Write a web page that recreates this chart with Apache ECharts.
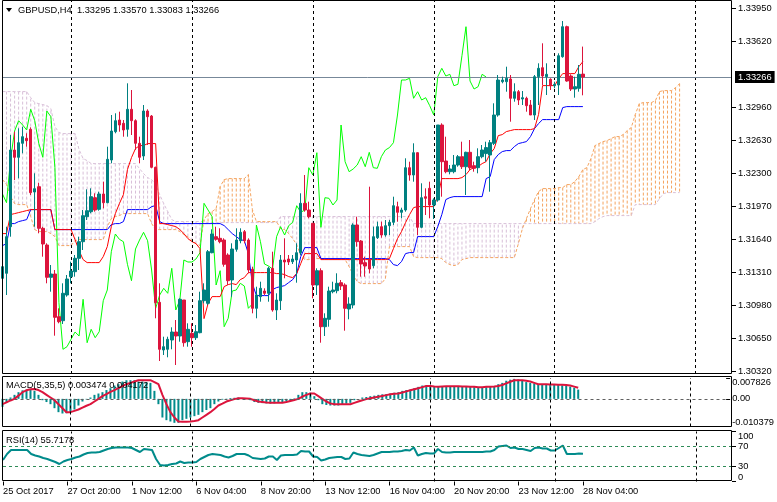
<!DOCTYPE html>
<html><head><meta charset="utf-8">
<script src="https://cdn.jsdelivr.net/npm/echarts@6/dist/echarts.min.js"></script>
<style>html,body{margin:0;padding:0;background:#fff}#c{width:777px;height:502px}</style>
</head><body><div id="c"></div>
<script>
const FONT = '"Liberation Sans", Arial, sans-serif';
const FS = 9.3;
const symbolName = 'GBPUSD,H4';

// ---- H4 candles (bar 0 = 25 Oct 04:00 ... bar 144 = 28 Nov 04:00) ----
const opens = [
1.31253,1.31303,1.31769,1.32536,1.32463,1.32603,1.32653,1.32743,1.32116,1.32169,
1.31753,1.31586,1.31263,1.31296,1.30869,1.30829,1.31086,1.31269,1.31319,1.31453,
1.31619,1.31869,1.31919,1.32059,1.31943,1.32096,1.32009,1.32436,1.32719,1.32836,
1.32803,1.32743,1.32943,1.32829,1.32603,1.32476,1.32926,1.32876,1.32363,1.31013,
1.30536,1.30543,1.30636,1.30716,1.30676,1.31036,1.30619,1.30703,1.30659,1.30709,
1.31029,1.31003,1.31509,1.31669,1.31653,1.31636,1.31486,1.31236,1.31543,1.31629,
1.31719,1.31636,1.31343,1.30953,1.31069,1.31126,1.31103,1.31353,1.30936,1.31029,
1.31436,1.31446,1.31419,1.31436,1.31509,1.32003,1.31936,1.31803,1.31186,1.31329,
1.30769,1.30843,1.31119,1.31129,1.31209,1.31186,1.30946,1.30986,1.31786,1.31626,
1.31409,1.31436,1.31379,1.31659,1.31769,1.31686,1.31779,1.31813,1.31969,1.31913,
1.31936,1.32359,1.32286,1.32509,1.31763,1.32069,1.32153,1.31986,1.32036,1.32786,
1.32426,1.32319,1.32319,1.32386,1.32469,1.32369,1.32513,1.32379,1.32359,1.32469,
1.32500,1.32486,1.32603,1.32886,1.33219,1.33219,1.33246,1.33053,1.33119,1.33046,
1.33053,1.32986,1.32886,1.33269,1.33359,1.33269,1.33243,1.33179,1.33186,1.33469,
1.33769,1.33276,1.33146,1.33153,1.33295];
const highs = [
1.31403,1.31769,1.32686,1.32719,1.32753,1.32769,1.32703,1.32763,1.32303,1.32209,
1.31769,1.31603,1.31386,1.31336,1.30953,1.31203,1.31286,1.31419,1.31486,1.31669,
1.31936,1.32143,1.32153,1.32103,1.32119,1.32219,1.32569,1.32886,1.32903,1.32919,
1.32836,1.33203,1.33136,1.32843,1.32669,1.32986,1.32943,1.32886,1.32369,1.31203,
1.30669,1.30669,1.30763,1.30836,1.31053,1.31036,1.30803,1.30803,1.30786,1.31119,
1.31203,1.31536,1.31743,1.31769,1.31753,1.31653,1.31503,1.31603,1.31753,1.31753,
1.31736,1.31653,1.31369,1.31169,1.31219,1.31153,1.31369,1.31519,1.31103,1.31486,
1.31653,1.31486,1.31486,1.31603,1.32103,1.32286,1.32019,1.31803,1.31353,1.31353,
1.30903,1.31169,1.31219,1.31303,1.31236,1.31203,1.31063,1.31803,1.31869,1.31636,
1.31469,1.32169,1.31769,1.31819,1.31819,1.31836,1.31836,1.32069,1.32019,1.31959,
1.32453,1.32419,1.32603,1.32513,1.32203,1.32153,1.32219,1.32053,1.32786,1.32803,
1.32669,1.32386,1.32486,1.32486,1.32619,1.32519,1.32636,1.32419,1.32553,1.32586,
1.32619,1.32636,1.33003,1.33286,1.33269,1.33369,1.33286,1.33203,1.33136,1.33126,
1.33069,1.33036,1.33286,1.33403,1.33603,1.33403,1.33253,1.33219,1.33503,1.33826,
1.33779,1.33293,1.33269,1.33386,1.33570];
const lows = [
1.31236,1.31086,1.31669,1.32236,1.32253,1.32503,1.32569,1.32086,1.31769,1.31703,
1.31469,1.31203,1.31119,1.30679,1.30803,1.30796,1.31069,1.31203,1.31269,1.31336,
1.31536,1.31836,1.31903,1.31919,1.31929,1.31953,1.32003,1.32403,1.32703,1.32719,
1.32669,1.32669,1.32686,1.32536,1.32403,1.32436,1.32586,1.32353,1.30853,1.30426,
1.30486,1.30463,1.30543,1.30386,1.30619,1.30569,1.30569,1.30569,1.30636,1.30703,
1.31003,1.30986,1.31503,1.31629,1.31603,1.31369,1.31186,1.31069,1.31519,1.31603,
1.31603,1.31303,1.30903,1.30853,1.31019,1.31086,1.31019,1.30919,1.30836,1.30936,
1.31253,1.31386,1.31396,1.31209,1.31486,1.31919,1.31853,1.31053,1.31086,1.30609,
1.30676,1.30769,1.31103,1.31103,1.31136,1.30729,1.30843,1.30953,1.31569,1.31269,
1.31269,1.31303,1.31353,1.31646,1.31659,1.31669,1.31686,1.31786,1.31819,1.31853,
1.31919,1.32229,1.32219,1.31686,1.31753,1.31886,1.31853,1.31846,1.32019,1.32069,
1.32303,1.32293,1.32303,1.32369,1.32346,1.32086,1.32336,1.32319,1.32303,1.32453,
1.32419,1.32119,1.32586,1.32869,1.33203,1.33119,1.32819,1.33019,1.32986,1.32986,
1.32919,1.32886,1.32836,1.32986,1.33186,1.33086,1.33136,1.33153,1.33086,1.33459,
1.33219,1.33126,1.33059,1.33119,1.33083];
const closes = [
1.31369,1.31669,1.32536,1.32463,1.32609,1.32669,1.32629,1.32109,1.32149,1.31753,
1.31596,1.31263,1.31296,1.30863,1.30819,1.31103,1.31246,1.31326,1.31453,1.31619,
1.31879,1.31929,1.32069,1.31936,1.32096,1.32009,1.32443,1.32726,1.32829,1.32786,
1.32736,1.32943,1.32829,1.32603,1.32463,1.32926,1.32869,1.32363,1.31009,1.30543,
1.30569,1.30643,1.30716,1.30676,1.31043,1.30609,1.30743,1.30659,1.30719,1.31029,
1.31136,1.31519,1.31696,1.31643,1.31619,1.31393,1.31229,1.31546,1.31636,1.31713,
1.31629,1.31336,1.30953,1.31086,1.31153,1.31103,1.31353,1.30936,1.31036,1.31436,
1.31416,1.31416,1.31446,1.31509,1.32003,1.31936,1.31869,1.31186,1.31329,1.30769,
1.30853,1.31126,1.31136,1.31203,1.31176,1.30953,1.30996,1.31786,1.31619,1.31396,
1.31376,1.31346,1.31669,1.31769,1.31686,1.31779,1.31813,1.31979,1.31913,1.31936,
1.32359,1.32286,1.32509,1.31763,1.32059,1.32053,1.31986,1.32036,1.32786,1.32419,
1.32319,1.32346,1.32386,1.32469,1.32369,1.32513,1.32359,1.32353,1.32469,1.32536,
1.32560,1.32609,1.32886,1.33236,1.33236,1.33253,1.33053,1.33119,1.33036,1.33059,
1.32979,1.32886,1.33269,1.33353,1.33276,1.33293,1.33179,1.33193,1.33479,1.33769,
1.33226,1.33146,1.33169,1.33293,1.33266];

// ---- Ichimoku lines ----
const tenkan = [
1.3170,1.3170,1.3189,1.3190,1.3191,1.3192,1.3193,1.3194,1.3194,1.3194,
1.3194,1.3194,1.3194,1.3174,1.3174,1.3174,1.3174,1.3174,1.3164,1.3153,
1.3144,1.3141,1.3141,1.3141,1.3141,1.3147,1.3157,1.3177,1.3190,1.3200,
1.3209,1.3234,1.3246,1.3255,1.3258,1.3258,1.3260,1.3260,1.3260,1.3180,
1.3180,1.3179,1.3178,1.3177,1.3174,1.3170,1.3165,1.3162,1.3160,1.3155,
1.3085,1.3100,1.3107,1.3107,1.3107,1.3117,1.3119,1.3120,1.3119,1.3124,
1.3126,1.3131,1.3131,1.3131,1.3131,1.3131,1.3131,1.3131,1.3130,1.3130,
1.3129,1.3127,1.3126,1.3130,1.3140,1.3150,1.3150,1.3150,1.3150,1.3144,
1.3144,1.3144,1.3144,1.3144,1.3144,1.3144,1.3144,1.3144,1.3144,1.3144,
1.3144,1.3144,1.3144,1.3144,1.3144,1.3144,1.3145,1.3155,1.3165,1.3172,
1.3181,1.3189,1.3196,1.3197,1.3197,1.3197,1.3197,1.3197,1.3207,1.3225,
1.3225,1.3225,1.3225,1.3225,1.3226,1.3229,1.3234,1.3236,1.3237,1.3240,
1.3242,1.3250,1.3255,1.3268,1.3269,1.3272,1.3273,1.3274,1.3274,1.3274,
1.3274,1.3274,1.3275,1.3289,1.3318,1.3318,1.3318,1.3318,1.3325,1.3330,
1.3330,1.3330,1.3330,1.3337,1.3342];
const kijun = [
1.3158,1.3160,1.3180,1.3180,1.3182,1.3183,1.3184,1.3194,1.3194,1.3194,
1.3194,1.3194,1.3194,1.3174,1.3174,1.3174,1.3174,1.3174,1.3174,1.3174,
1.3174,1.3174,1.3174,1.3174,1.3174,1.3174,1.3174,1.3179,1.3180,1.3180,
1.3182,1.3194,1.3194,1.3194,1.3194,1.3194,1.3194,1.3197,1.3198,1.3182,
1.3180,1.3180,1.3180,1.3180,1.3180,1.3180,1.3180,1.3180,1.3180,1.3180,
1.3180,1.3180,1.3180,1.3180,1.3180,1.3178,1.3174,1.3170,1.3167,1.3164,
1.3163,1.3150,1.3120,1.3108,1.3108,1.3108,1.3108,1.3114,1.3116,1.3117,
1.3118,1.3121,1.3124,1.3130,1.3147,1.3156,1.3156,1.3156,1.3156,1.3145,
1.3145,1.3145,1.3145,1.3145,1.3145,1.3145,1.3145,1.3145,1.3145,1.3145,
1.3145,1.3145,1.3145,1.3145,1.3145,1.3145,1.3144,1.3139,1.3138,1.3142,
1.3150,1.3151,1.3151,1.3167,1.3167,1.3167,1.3167,1.3167,1.3177,1.3189,
1.3204,1.3206,1.3207,1.3207,1.3207,1.3207,1.3207,1.3207,1.3207,1.3207,
1.3225,1.3227,1.3244,1.3249,1.3252,1.3253,1.3253,1.3257,1.3260,1.3261,
1.3262,1.3267,1.3275,1.3280,1.3284,1.3284,1.3284,1.3284,1.3284,1.3296,
1.3297,1.3297,1.3297,1.3297,1.3297];
// Senkou spans, already plotted 24 bars ahead (bars 0..168)
const senkouA = [
1.3224,1.3219,1.3207,1.3200,1.3199,1.3199,1.3199,1.3187,1.3174,1.3172,
1.3172,1.3172,1.3170,1.3167,1.3158,1.3158,1.3158,1.3158,1.3163,1.3164,
1.3164,1.3164,1.3164,1.3164,1.3164,1.3164,1.3177,1.3185,1.3187,1.3188,
1.3190,1.3190,1.3190,1.3190,1.3190,1.3190,1.3190,1.3180,1.3174,1.3174,
1.3174,1.3174,1.3174,1.3174,1.3172,1.3169,1.3167,1.3163,1.3160,1.3158,
1.3184,1.3190,1.3192,1.3195,1.3217,1.3224,1.3225,1.3225,1.3225,1.3225,
1.3225,1.3229,1.3194,1.3182,1.3182,1.3182,1.3182,1.3182,1.3182,1.3175,
1.3174,1.3170,1.3165,1.3159,1.3148,1.3144,1.3144,1.3145,1.3145,1.3145,
1.3145,1.3145,1.3145,1.3145,1.3145,1.3144,1.3137,1.3129,1.3122,1.3120,
1.3120,1.3120,1.3120,1.3120,1.3120,1.3125,1.3157,1.3157,1.3157,1.3157,
1.3157,1.3157,1.3147,1.3146,1.3146,1.3146,1.3146,1.3146,1.3146,1.3145,
1.3141,1.3139,1.3138,1.3139,1.3144,1.3145,1.3146,1.3146,1.3146,1.3146,
1.3146,1.3146,1.3146,1.3146,1.3146,1.3146,1.3146,1.3146,1.3160,1.3175,
1.3185,1.3195,1.3204,1.3212,1.3215,1.3215,1.3215,1.3215,1.3216,1.3216,
1.3219,1.3219,1.3222,1.3227,1.3234,1.3236,1.3245,1.3258,1.3260,1.3262,
1.3263,1.3265,1.3267,1.3267,1.3269,1.3273,1.3276,1.3289,1.3300,1.3301,
1.3301,1.3301,1.3303,1.3312,1.3313,1.3313,1.3313,1.3316,1.3320];
const senkouB = [
1.3312,1.3312,1.3312,1.3312,1.3312,1.3312,1.3312,1.3306,1.3301,1.3300,
1.3299,1.3298,1.3295,1.3277,1.3271,1.3270,1.3270,1.3270,1.3270,1.3254,
1.3245,1.3243,1.3240,1.3240,1.3240,1.3240,1.3240,1.3240,1.3240,1.3240,
1.3240,1.3240,1.3240,1.3240,1.3235,1.3230,1.3226,1.3224,1.3219,1.3209,
1.3200,1.3192,1.3184,1.3182,1.3182,1.3182,1.3182,1.3182,1.3182,1.3182,
1.3182,1.3181,1.3181,1.3181,1.3181,1.3181,1.3181,1.3181,1.3181,1.3181,
1.3181,1.3181,1.3181,1.3181,1.3181,1.3181,1.3181,1.3181,1.3181,1.3187,
1.3187,1.3187,1.3187,1.3187,1.3187,1.3187,1.3187,1.3187,1.3187,1.3187,
1.3187,1.3187,1.3187,1.3187,1.3187,1.3187,1.3187,1.3187,1.3187,1.3187,
1.3187,1.3187,1.3187,1.3187,1.3187,1.3187,1.3187,1.3187,1.3187,1.3187,
1.3187,1.3187,1.3180,1.3180,1.3180,1.3180,1.3180,1.3180,1.3180,1.3180,
1.3180,1.3180,1.3180,1.3180,1.3180,1.3180,1.3180,1.3180,1.3180,1.3180,
1.3180,1.3180,1.3180,1.3180,1.3180,1.3180,1.3180,1.3180,1.3180,1.3180,
1.3180,1.3180,1.3180,1.3180,1.3180,1.3180,1.3180,1.3180,1.3180,1.3180,
1.3180,1.3180,1.3180,1.3180,1.3180,1.3180,1.3180,1.3182,1.3185,1.3187,
1.3188,1.3188,1.3188,1.3188,1.3188,1.3188,1.3188,1.3199,1.3199,1.3199,
1.3199,1.3199,1.3199,1.3205,1.3210,1.3211,1.3211,1.3211,1.3211];
const CHIKOU_SHIFT = 24;   // Chikou span = close drawn 24 bars back

// ---- MACD(5,35,5), in units of 0.001 ----
const macdMain_e3 = [
-3.0,-1.5,0.5,1.5,2.5,3.2,3.5,3.5,3.0,1.5,
-0.5,-1.2,-2.0,-3.5,-5.0,-5.5,-5.4,-5.0,-4.0,-2.5,
-1.0,-0.2,0.5,1.5,2.0,2.5,3.3,4.0,5.0,5.5,
6.5,7.0,7.0,7.0,6.5,6.5,6.3,6.0,3.0,-2.0,
-7.0,-8.0,-8.5,-9.0,-9.0,-8.0,-7.5,-7.0,-6.5,-6.0,
-5.0,-4.2,-3.5,-2.0,-1.0,-0.3,0.1,0.3,0.4,0.5,
0.3,-0.1,-0.5,-1.2,-1.5,-1.6,-1.7,-1.8,-1.7,-1.5,
-1.3,-1.0,-0.8,0.2,1.5,2.5,2.5,2.3,1.0,-0.5,
-2.0,-2.3,-2.5,-2.5,-2.5,-2.2,-1.8,-1.5,-0.5,0.0,
0.5,0.7,1.0,1.2,1.5,1.7,1.8,2.0,2.3,2.5,
3.0,3.3,3.5,4.0,4.5,5.0,5.0,5.0,4.5,4.5,
4.6,4.7,4.8,4.8,4.8,4.7,4.6,4.5,4.4,4.3,
4.3,4.4,4.5,4.8,5.5,6.0,6.8,7.2,7.5,7.3,
7.0,6.3,6.0,5.8,5.5,5.5,5.5,5.4,5.3,5.2,
5.1,5.0,4.6,4.2,3.474];
const macdSignal_e3 = [
-2.0,-1.3,-0.6,0.0,1.2,2.5,3.2,3.6,3.7,3.3,
2.5,1.5,0.5,-0.5,-2.0,-3.5,-5.0,-5.0,-4.5,-4.0,
-3.3,-2.6,-2.0,-1.0,0.0,1.0,1.8,2.6,3.3,4.0,
4.8,5.5,6.0,6.5,7.0,7.0,7.0,7.0,6.3,5.5,
1.5,-2.0,-5.0,-7.0,-8.5,-8.6,-8.6,-8.5,-8.3,-8.0,
-7.0,-6.0,-5.0,-3.8,-2.5,-1.8,-1.0,-0.5,-0.1,0.2,
0.2,0.1,0.0,-0.5,-1.0,-1.2,-1.4,-1.5,-1.5,-1.5,
-1.5,-1.2,-0.8,-0.4,0.0,0.8,1.5,2.0,2.0,1.0,
0.0,-1.0,-1.7,-2.0,-2.0,-2.0,-2.0,-2.0,-1.5,-1.0,
-0.5,-0.1,0.2,0.5,0.8,1.1,1.4,1.7,1.9,2.0,
2.4,2.8,3.2,3.6,4.0,4.4,4.8,4.8,4.6,4.5,
4.6,4.7,4.7,4.7,4.7,4.6,4.6,4.5,4.5,4.4,
4.4,4.5,4.5,4.6,4.8,5.2,5.8,6.4,7.0,7.0,
7.0,6.8,6.5,6.0,5.5,5.5,5.5,5.4,5.4,5.3,
5.3,5.2,5.0,4.6,4.172];
const MACD_UNIT = 0.001;
const macdScale = { max: 0.007826, min: -0.010379 };

// ---- RSI(14) ----
const rsi = [
43,55,63,63,63,63,63,55,52,50,
47,45,42,39,35,40,43,45,48,50,
54,57,58,58,59,62,65,67,68,68,
68,68,67,63,59,65,64,63,45,33,
32,33,35,36,40,37,38,38,39,45,
49,53,55,54,53,50,48,51,55,55,
55,52,47,46,45,46,50,50,43,52,
53,53,53,54,61,60,60,50,49,42,
44,47,48,49,49,45,46,58,55,53,
52,51,53,56,59,59,59,60,60,61,
63,62,68,52,55,57,56,56,65,59,
58,58,59,59,59,59,59,59,59,59,
60,60,63,70,71,72,67,68,65,65,
63,61,67,68,66,66,62,62,67,72,
55,55,55,56,55.7178];
const rsiLevels = [70, 30];

// ---- axes: ticks and labels ----
const priceTicks = [1.33950,1.33620,1.32960,1.32630,1.32300,1.31970,1.31640,1.31310,1.30980,1.30650,1.30320];
const priceRange = { min: 1.30296, max: 1.34026 };
const timeLabels = ['25 Oct 2017','27 Oct 20:00','1 Nov 12:00','6 Nov 04:00','8 Nov 20:00','13 Nov 12:00','16 Nov 04:00','20 Nov 20:00','23 Nov 12:00','28 Nov 04:00'];
const timeLabelBars = [0,16,32,48,64,80,96,112,128,144];
const weekGridBars = [17,47,77,107,137,172];
const N_SLOTS = 182;   // visible bar slots incl. future area

// ---- build ----
const slots = Array.from({length: N_SLOTS}, (_, i) => i);
const last = closes.length - 1;
const candles = opens.map((o, i) => [o, closes[i], lows[i], highs[i]]);
const chikou = closes.slice(CHIKOU_SHIFT);
const macdMain = macdMain_e3.map(v => v * MACD_UNIT);
const macdSignal = macdSignal_e3.map(v => v * MACD_UNIT);
const cloud = senkouA.map((a, i) => [i, a, senkouB[i]]);

const txt = { color: '#000', fontSize: FS, fontFamily: FONT };
const G = { left: 2.5, width: 729.5 };
const isLabelBar = (idx) => timeLabelBars.indexOf(idx) >= 0;

function xAx(gi, withLabels) {
  return {
    type: 'category', gridIndex: gi, data: slots, boundaryGap: false,
    axisLine: { show: false }, splitLine: { show: false },
    axisTick: withLabels ? { show: true, interval: isLabelBar, length: 4, lineStyle: { color: '#000' } } : { show: false },
    axisLabel: withLabels ? Object.assign({ show: true, interval: isLabelBar, align: 'left', margin: 5,
      formatter: (v, idx) => timeLabels[timeLabelBars.indexOf(idx)] }, txt) : { show: false }
  };
}
function yAx(gi, min, max, vals, fmt, valign) {
  return {
    type: 'value', gridIndex: gi, position: 'right', min: min, max: max, scale: true,
    axisLine: { show: false }, splitLine: { show: false },
    axisTick: { show: true, customValues: vals, length: 4, lineStyle: { color: '#000' } },
    axisLabel: Object.assign({ show: true, customValues: vals, formatter: fmt, margin: 6, verticalAlign: valign || 'middle' }, txt)
  };
}
function gridLinesSeries(xi, yi) {
  return {
    type: 'line', xAxisIndex: xi, yAxisIndex: yi, data: [], z: 0, silent: true,
    markLine: { silent: true, symbol: ['none', 'none'], label: { show: false }, animation: false,
      lineStyle: { color: '#000', width: 1, type: [3, 3] },
      data: weekGridBars.map(b => ({ xAxis: b })) }
  };
}

const chart = echarts.init(document.getElementById('c'), null, { renderer: 'canvas' });
chart.setOption({
  animation: false,
  backgroundColor: '#fff',
  grid: [
    { left: G.left, width: G.width, top: 1, height: 373 },
    { left: G.left, width: G.width, top: 378, height: 48.5 },
    { left: G.left, width: G.width, top: 431.5, height: 50 }
  ],
  xAxis: [xAx(0, false), xAx(1, false), xAx(2, true)],
  yAxis: [
    yAx(0, priceRange.min, priceRange.max, priceTicks, v => v.toFixed(5)),
    yAx(1, macdScale.min, macdScale.max, [macdScale.max], v => v.toFixed(6), 'top'),
    yAx(1, macdScale.min, macdScale.max, [0], () => '0.00'),
    yAx(1, macdScale.min, macdScale.max, [macdScale.min], v => v.toFixed(6), 'bottom'),
    yAx(2, 0, 100, [100], v => String(v), 'top'),
    yAx(2, 0, 100, rsiLevels, v => String(v)),
    yAx(2, 0, 100, [0], v => String(v), 'bottom')
  ],
  series: [
    gridLinesSeries(0, 0),
    {
      type: 'custom', xAxisIndex: 0, yAxisIndex: 0, z: 1, silent: true,
      data: cloud, encode: { x: 0, y: [1, 2] },
      renderItem: (params, api) => {
        const i = api.value(0), a = api.value(1), b = api.value(2);
        const p1 = api.coord([i, a]), p2 = api.coord([i, b]);
        return { type: 'line', shape: { x1: p1[0], y1: p1[1], x2: p2[0], y2: p2[1] },
          style: { stroke: a >= b ? '#F4A460' : '#D8BFD8', lineWidth: 1, lineDash: [3, 2] } };
      }
    },
    { type: 'line', name: 'Senkou A', xAxisIndex: 0, yAxisIndex: 0, data: senkouA, symbol: 'none', z: 2,
      lineStyle: { color: '#F4A460', width: 1, type: [3, 2] } },
    { type: 'line', name: 'Senkou B', xAxisIndex: 0, yAxisIndex: 0, data: senkouB, symbol: 'none', z: 2,
      lineStyle: { color: '#D8BFD8', width: 1, type: [3, 2] } },
    { type: 'line', name: 'Chikou', xAxisIndex: 0, yAxisIndex: 0, data: chikou, symbol: 'none', z: 3,
      lineStyle: { color: '#00FF00', width: 1 } },
    { type: 'line', name: 'Kijun', xAxisIndex: 0, yAxisIndex: 0, data: kijun, symbol: 'none', z: 3,
      lineStyle: { color: '#0000FF', width: 1 } },
    { type: 'line', name: 'Tenkan', xAxisIndex: 0, yAxisIndex: 0, data: tenkan, symbol: 'none', z: 3,
      lineStyle: { color: '#FF0000', width: 1 } },
    {
      type: 'line', name: 'Bid line', xAxisIndex: 0, yAxisIndex: 0, data: [], z: 4, silent: true,
      markLine: {
        silent: true, symbol: ['none', 'none'], animation: false, precision: 5,
        lineStyle: { color: '#778899', width: 1, type: 'solid' },
        label: { show: true, position: 'end', distance: 3, formatter: () => closes[last].toFixed(5),
          backgroundColor: '#000', color: '#fff', padding: [2, 3, 1, 3], fontSize: FS, fontFamily: FONT },
        data: [{ yAxis: closes[last] }]
      }
    },
    {
      type: 'candlestick', xAxisIndex: 0, yAxisIndex: 0, data: candles, barWidth: 3, z: 5,
      itemStyle: { color: '#008080', color0: '#DC143C', borderColor: '#008080', borderColor0: '#DC143C', borderWidth: 1 }
    },
    gridLinesSeries(1, 1),
    {
      type: 'bar', xAxisIndex: 1, yAxisIndex: 1, data: macdMain, barWidth: 2, z: 2,
      itemStyle: { color: '#008B8B' },
      markLine: { silent: true, symbol: ['none', 'none'], label: { show: false }, animation: false,
        lineStyle: { color: '#606060', width: 1, type: [3, 3] }, data: [{ yAxis: 0 }] }
    },
    { type: 'line', xAxisIndex: 1, yAxisIndex: 1, data: macdSignal, symbol: 'none', z: 3,
      lineStyle: { color: '#DC143C', width: 2 } },
    gridLinesSeries(2, 4),
    {
      type: 'line', xAxisIndex: 2, yAxisIndex: 4, data: rsi, symbol: 'none', z: 3,
      lineStyle: { color: '#008B8B', width: 2 },
      markLine: { silent: true, symbol: ['none', 'none'], label: { show: false }, animation: false,
        lineStyle: { color: '#2E8B57', width: 1, type: [3, 3] }, data: rsiLevels.map(v => ({ yAxis: v })) }
    }
  ],
  graphic: [
    { type: 'rect', silent: true, z: 100, shape: { x: 2.5, y: 0.5, width: 729, height: 373 }, style: { fill: 'none', stroke: '#000', lineWidth: 1 } },
    { type: 'rect', silent: true, z: 100, shape: { x: 2.5, y: 376.5, width: 729, height: 50 }, style: { fill: 'none', stroke: '#000', lineWidth: 1 } },
    { type: 'rect', silent: true, z: 100, shape: { x: 2.5, y: 430.5, width: 729, height: 50 }, style: { fill: 'none', stroke: '#000', lineWidth: 1 } },
    { type: 'polygon', silent: true, z: 100, shape: { points: [[6, 8], [12, 8], [9, 12]] }, style: { fill: '#000' } },
    { type: 'text', silent: true, z: 100, x: 18, y: 10,
      style: { text: symbolName + '  ' + [opens[last], highs[last], lows[last], closes[last]].map(v => v.toFixed(5)).join(' '),
        fill: '#000', fontSize: FS, fontFamily: FONT, verticalAlign: 'middle' } },
    { type: 'text', silent: true, z: 100, x: 6, y: 385,
      style: { text: 'MACD(5,35,5) ' + macdMain[last].toFixed(6) + ' ' + macdSignal[last].toFixed(6),
        fill: '#000', fontSize: FS, fontFamily: FONT, verticalAlign: 'middle' } },
    { type: 'text', silent: true, z: 100, x: 6, y: 440,
      style: { text: 'RSI(14) ' + rsi[last].toFixed(4), fill: '#000', fontSize: FS, fontFamily: FONT, verticalAlign: 'middle' } }
  ]
});
</script>
</body></html>
